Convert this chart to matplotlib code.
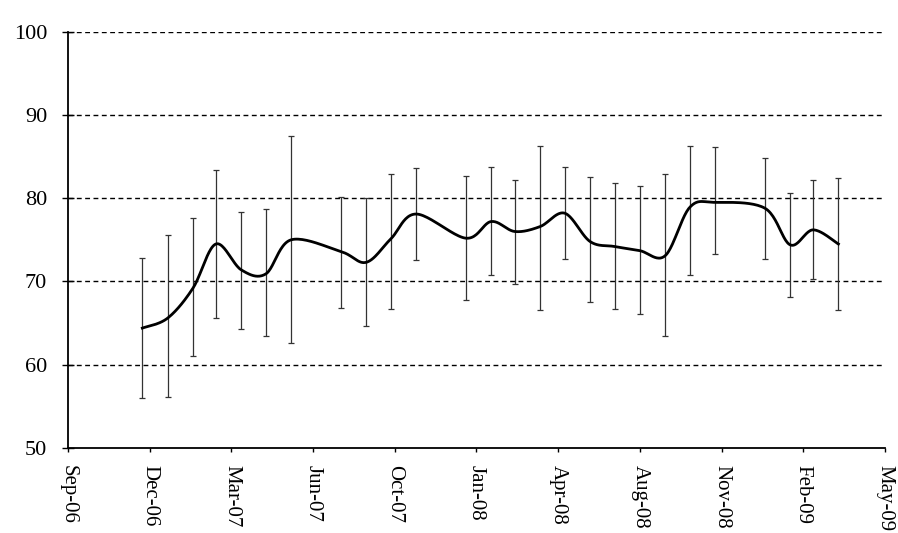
import numpy as np
import pandas as pd
import matplotlib
matplotlib.use('Agg')
from matplotlib import pyplot as plt
import matplotlib.dates as mdates

# monthly survey values (mean with upper / lower error limits)
months = ['2006-12-01', '2007-01-01', '2007-02-01', '2007-03-01', '2007-04-01',
          '2007-05-01', '2007-06-01', '2007-08-01', '2007-09-01', '2007-10-01',
          '2007-11-01', '2008-01-01', '2008-02-01', '2008-03-01', '2008-04-01',
          '2008-05-01', '2008-06-01', '2008-07-01', '2008-08-01', '2008-09-01',
          '2008-10-01', '2008-11-01', '2009-01-01', '2009-02-01', '2009-03-01',
          '2009-04-01']
means = [64.4, 65.6, 69.2, 74.5, 71.4, 70.9, 75.0, 73.6, 72.3, 75.1,
         78.1, 75.2, 77.2, 76.0, 76.6, 78.2, 74.8, 74.2, 73.7, 73.1,
         78.9, 79.5, 78.8, 74.4, 76.2, 74.5]
upper = [72.8, 75.6, 77.6, 83.4, 78.4, 78.7, 87.5, 80.2, 80.0, 82.9,
         83.6, 82.7, 83.7, 82.2, 86.3, 83.7, 82.5, 81.8, 81.5, 82.9,
         86.3, 86.1, 84.8, 80.6, 82.2, 82.4]
lower = [56.0, 56.1, 61.1, 65.6, 64.3, 63.5, 62.6, 66.8, 64.7, 66.7,
         72.6, 67.8, 70.8, 69.7, 66.6, 72.7, 67.5, 66.7, 66.1, 63.4,
         70.8, 73.3, 72.7, 68.1, 70.3, 66.6]

tick_start = '2006-09-01'
tick_step_days = 100
n_ticks = 11

x = mdates.date2num(pd.to_datetime(months))
y = np.array(means)
up = np.array(upper)
lo = np.array(lower)


def smooth(xs, ys, n=25):
    # bezier smoothing like a spreadsheet "smoothed line"
    px = np.concatenate([[xs[0]], xs, [xs[-1]]])
    py = np.concatenate([[ys[0]], ys, [ys[-1]]])
    outx, outy = [], []
    t = np.linspace(0, 1, n)
    for i in range(1, len(px) - 2):
        p0 = np.array([px[i], py[i]])
        p3 = np.array([px[i + 1], py[i + 1]])
        c1 = p0 + (np.array([px[i + 1], py[i + 1]]) - np.array([px[i - 1], py[i - 1]])) / 6
        c2 = p3 - (np.array([px[i + 2], py[i + 2]]) - np.array([px[i], py[i]])) / 6
        for tt in t:
            b = ((1 - tt) ** 3) * p0 + 3 * ((1 - tt) ** 2) * tt * c1 + 3 * (1 - tt) * tt ** 2 * c2 + tt ** 3 * p3
            outx.append(b[0])
            outy.append(b[1])
    return np.array(outx), np.array(outy)


plt.rcParams['font.family'] = ['Liberation Serif', 'DejaVu Serif']

fig = plt.figure(figsize=(8.98, 5.33), dpi=100)
ax = fig.add_axes([0.0757, 0.1595, 0.9098, 0.781])

for v in [60, 70, 80, 90, 100]:
    ax.axhline(v, color='black', lw=1.0, linestyle=(0, (3.5, 2.5)), zorder=1)

ax.errorbar(x, y, yerr=[y - lo, up - y], fmt='none', ecolor='#333333',
            elinewidth=0.9, capsize=2, capthick=0.9, zorder=2)

sx, sy = smooth(x, y)
ax.plot(sx, sy, color='black', lw=2.0, zorder=3)

start = mdates.date2num(pd.Timestamp(tick_start))
ticks = start + np.arange(n_ticks) * tick_step_days
ax.set_xlim(ticks[0], ticks[-1])
ax.set_xticks(ticks)
ax.xaxis.set_major_formatter(mdates.DateFormatter('%b-%y'))
ax.set_ylim(50, 100)
ax.set_yticks([50, 60, 70, 80, 90, 100])

for lab in ax.get_xticklabels():
    lab.set_rotation(-90)
ax.tick_params(axis='y', labelsize=16, direction='inout', length=9, width=1,
               color='black', pad=10.5)
ax.tick_params(axis='x', labelsize=15, direction='out', length=3, width=1,
               color='black', pad=9)

ax.spines['top'].set_visible(False)
ax.spines['right'].set_visible(False)
ax.spines['left'].set_linewidth(1.3)
ax.spines['bottom'].set_linewidth(1.3)

plt.savefig('out.png', dpi=100)
